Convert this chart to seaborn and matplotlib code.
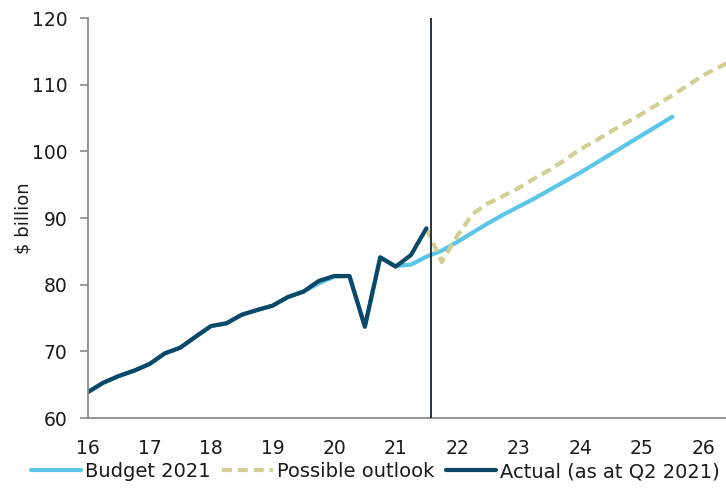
import numpy as np
import pandas as pd
import seaborn as sns
import matplotlib.pyplot as plt

# ==========================================
# DATA (quarterly, x in years: 16 = 2016)
# ==========================================

actual_x = [16.0, 16.25, 16.5, 16.75, 17.0, 17.25, 17.5, 17.75, 18.0, 18.25, 18.5, 18.75,
            19.0, 19.25, 19.5, 19.75, 20.0, 20.25, 20.5, 20.75, 21.0, 21.25, 21.5]
actual_y = [63.9, 65.3, 66.3, 67.1, 68.1, 69.7, 70.55, 72.2, 73.8, 74.2, 75.5, 76.2,
            76.85, 78.15, 78.95, 80.55, 81.3, 81.3, 73.7, 84.1, 82.7, 84.45, 88.45]

budget_x = [16.0, 16.25, 16.5, 16.75, 17.0, 17.25, 17.5, 17.75, 18.0, 18.25, 18.5, 18.75,
            19.0, 19.25, 19.5, 19.75, 20.0, 20.25, 20.5, 20.75, 21.0, 21.25, 21.5, 21.75,
            22.0, 22.25, 22.5, 22.75, 23.0, 23.25, 23.5, 23.75, 24.0, 24.25, 24.5, 24.75,
            25.0, 25.25, 25.5]
budget_y = [63.9, 65.3, 66.3, 67.1, 68.1, 69.7, 70.55, 72.2, 73.8, 74.2, 75.5, 76.2,
            76.85, 78.15, 78.95, 80.2, 81.2, 81.3, 73.7, 84.1, 82.8, 83.0, 84.2, 85.1,
            86.4, 87.8, 89.2, 90.5, 91.7, 92.9, 94.2, 95.5, 96.8, 98.2, 99.6, 101.0,
            102.4, 103.8, 105.2]

outlook_x = [21.5, 21.75, 22.0, 22.25, 22.5, 22.75, 23.0, 23.25, 23.5, 23.75, 24.0, 24.25,
             24.5, 24.75, 25.0, 25.25, 25.5, 25.75, 26.0, 26.25, 26.5]
outlook_y = [88.45, 83.4, 87.3, 90.6, 92.2, 93.3, 94.5, 95.9, 97.2, 98.7, 100.3, 101.6,
             103.0, 104.3, 105.6, 107.0, 108.4, 109.9, 111.4, 112.6, 113.8]

year_ticks = [16, 17, 18, 19, 20, 21, 22, 23, 24, 25, 26]
y_ticks = [60, 70, 80, 90, 100, 110, 120]

COL_BUDGET = '#5BC5EA'
COL_OUTLOOK = '#D3CE94'
COL_ACTUAL = '#0B4868'

# ==========================================
# PLOT
# ==========================================

sns.set_theme(style='white')
plt.rcParams['font.family'] = ['DejaVu Sans']

fig, ax = plt.subplots(figsize=(7.26, 4.88), dpi=100)
fig.subplots_adjust(left=88 / 726, right=1.0, top=1 - 18 / 488, bottom=1 - 418 / 488)

budget_df = pd.DataFrame({'x': budget_x, 'y': budget_y})
outlook_df = pd.DataFrame({'x': outlook_x, 'y': outlook_y})
actual_df = pd.DataFrame({'x': actual_x, 'y': actual_y})

sns.lineplot(data=budget_df, x='x', y='y', ax=ax, color=COL_BUDGET, lw=3,
             label='Budget 2021', legend=False)
sns.lineplot(data=outlook_df, x='x', y='y', ax=ax, color=COL_OUTLOOK, lw=3,
             label='Possible outlook', legend=False)
ax.lines[-1].set_dashes([2.4, 1.4])
sns.lineplot(data=actual_df, x='x', y='y', ax=ax, color=COL_ACTUAL, lw=3,
             label='Actual (as at Q2 2021)', legend=False)

ax.axvline(21.57, color='#16232e', lw=1.3, zorder=5)

ax.set_xlim(16, 26.37)
ax.set_ylim(60, 120)
ax.set_xticks(year_ticks)
ax.set_yticks(y_ticks)
ax.set_xlabel('')
ax.set_ylabel('$ billion', fontsize=13, labelpad=-1, color='#1a1a1a')

for side in ['top', 'right']:
    ax.spines[side].set_visible(False)
for side in ['left', 'bottom']:
    ax.spines[side].set_color('#8a8a8a')
    ax.spines[side].set_linewidth(1.3)

ax.tick_params(axis='y', left=True, length=6, width=1.2, color='#8a8a8a',
               labelsize=13.5, pad=9, labelcolor='#1a1a1a')
ax.tick_params(axis='x', bottom=False, labelsize=13.5, pad=9, labelcolor='#1a1a1a')
ax.grid(False)

handles, labels = ax.get_legend_handles_labels()
fig.legend(handles, labels, loc='lower center', bbox_to_anchor=(0.517, -0.022), ncol=3,
           frameon=False, fontsize=14, handlelength=2.6, handletextpad=0.2,
           columnspacing=0.6, labelcolor='#1a1a1a')

fig.savefig('out.png', dpi=100)
